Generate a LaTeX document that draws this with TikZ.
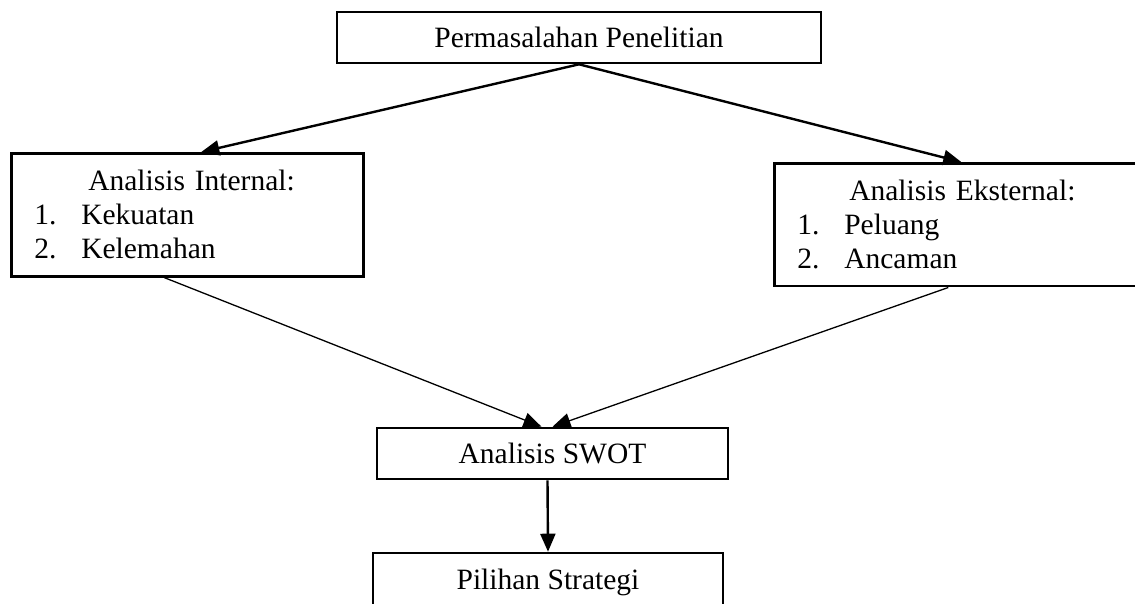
\documentclass[tikz,border=0pt]{standalone}
\usepackage{fontspec}
\setmainfont{Liberation Serif}
\usepackage{tikz}
\usetikzlibrary{positioning, arrows.meta}

\begin{document}
\begin{tikzpicture}[
    x=1pt, y=-1pt,
    font=\fontsize{29.5}{34}\selectfont,
    box/.style={rectangle, draw, line width=2.6pt, inner sep=0pt},
    listbox/.style={box, align=left, inner xsep=23pt, inner ysep=17pt, anchor=north west},
    arr/.style={-{Triangle[length=18pt, width=15pt]}, line width=2.4pt},
    thinarr/.style={-{Triangle[length=18pt, width=15pt]}, line width=1.3pt}
]
    \useasboundingbox (0,0) rectangle (1135,603);
    \clip (0,0) rectangle (1135,603);

    % Top problem box
    \node[box, minimum width=484pt, minimum height=51pt] (prob) at (579,37.5) {Permasalahan Penelitian};

    % Internal and external analysis
    \node[listbox, text width=306pt, minimum height=123pt] (lint) at (10,152)
        {\hspace*{54pt}Analisis Internal:\\\makebox[47pt][l]{1.}Kekuatan\\\makebox[47pt][l]{2.}Kelemahan};
    \node[listbox, text width=328pt, minimum height=121pt] (eks) at (773,162)
        {\hspace*{52pt}Analisis Eksternal:\\\makebox[47pt][l]{1.}Peluang\\\makebox[47pt][l]{2.}Ancaman};

    % SWOT and strategy
    \node[box, minimum width=351pt, minimum height=51pt] (swot) at (552.5,453.5) {Analisis SWOT};
    \node[box, minimum width=350pt, minimum height=53pt, text depth=0pt] (pil) at (548,579.5) {Pilihan Strategi};

    % Arrows
    \draw[arr] (prob.south) -- ([xshift=14pt]lint.north);
    \draw[arr] (prob.south) -- (eks.north);
    \draw[thinarr] ([xshift=-23pt]lint.south) -- ([xshift=-11pt]swot.north);
    \draw[thinarr] ([xshift=-13pt]eks.south) -- (swot.north);
    \draw[arr] ([xshift=-5pt]swot.south) -- (pil.north);
\end{tikzpicture}
\end{document}
